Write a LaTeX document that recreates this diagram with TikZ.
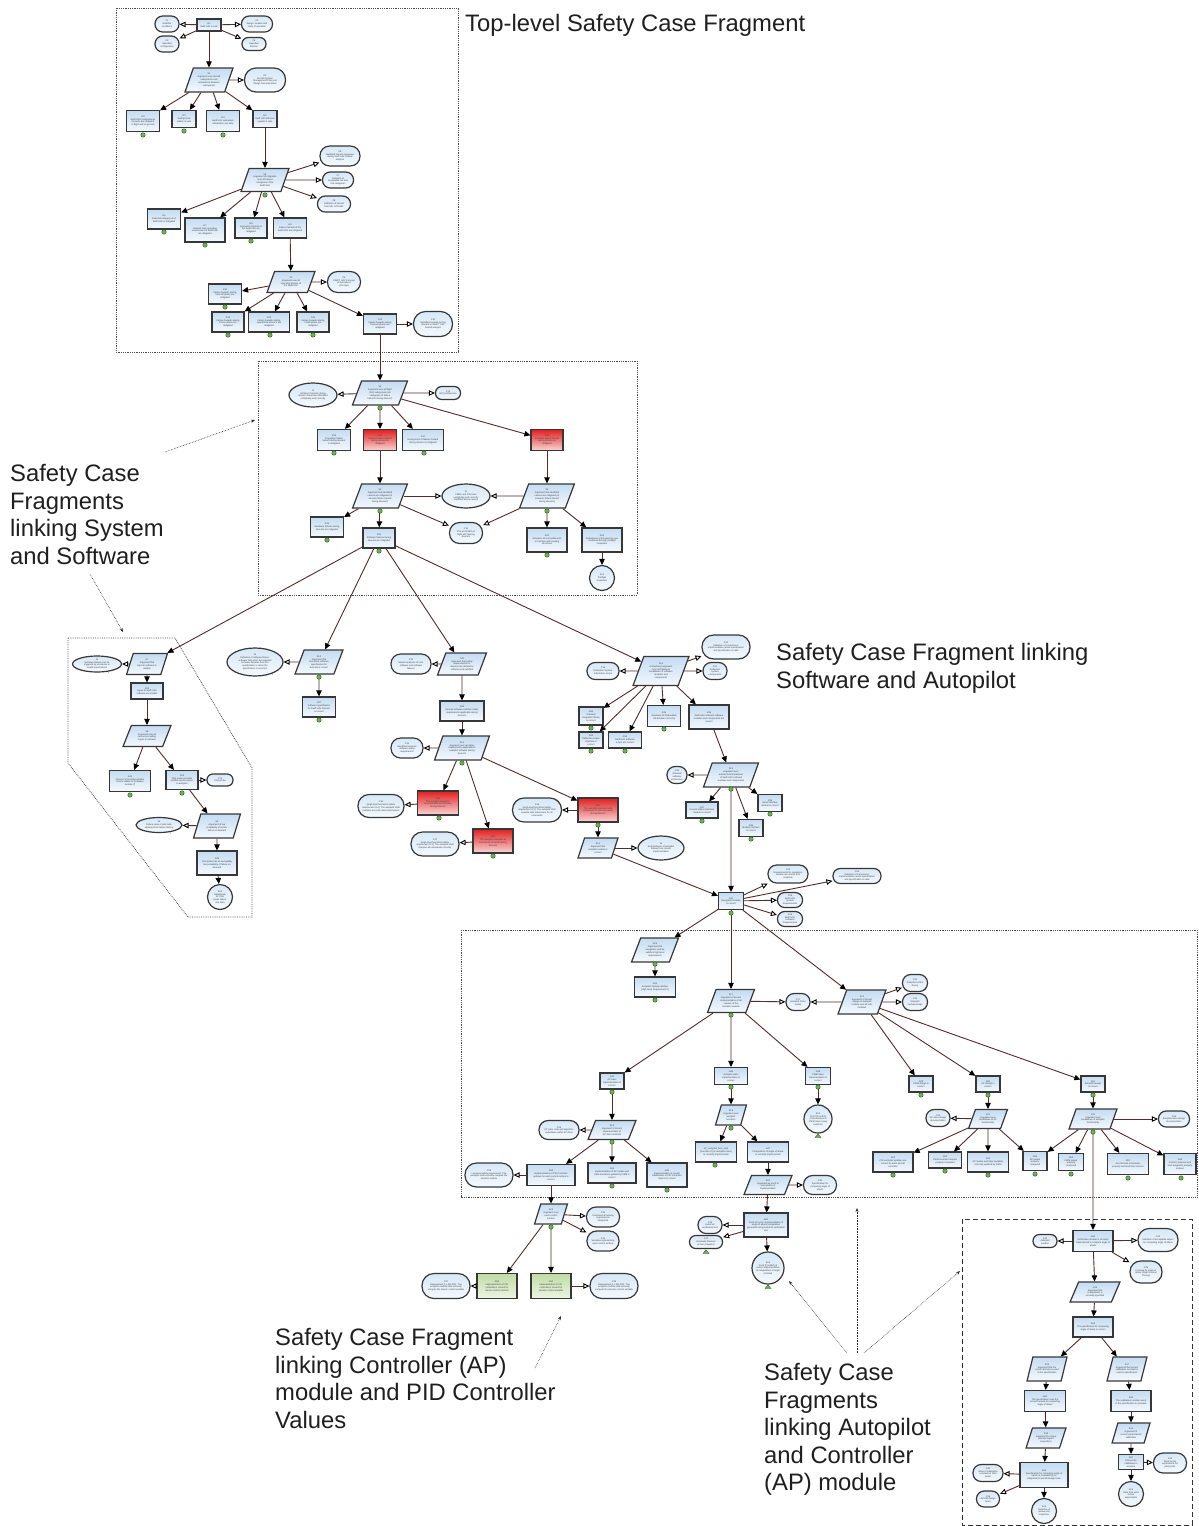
\documentclass[tikz,border=0pt]{standalone}
\usepackage{fontspec}
\setmainfont{Liberation Sans}
\usetikzlibrary{shapes.geometric,arrows.meta}

\definecolor{gtop}{RGB}{196,220,242}
\definecolor{gbot}{RGB}{244,249,253}
\definecolor{ctop}{RGB}{214,232,247}
\definecolor{rtop}{RGB}{226,30,30}
\definecolor{rbot}{RGB}{250,214,214}
\definecolor{vtop}{RGB}{192,220,165}
\definecolor{vbot}{RGB}{236,245,226}
\definecolor{edgec}{RGB}{88,42,42}
\definecolor{nborder}{RGB}{55,55,55}
\definecolor{mkfill}{RGB}{112,178,86}
\definecolor{mkdraw}{RGB}{48,105,40}

\newcommand{\tinyf}{\fontsize{2.3}{2.8}\selectfont}
\newcommand{\bigf}{\fontsize{23.8}{27.6}\selectfont}
% small green "undeveloped" marker below an element
\newcommand{\mk}[1]{\filldraw[fill=mkfill,draw=mkdraw,line width=0.5pt] (#1) circle (2.2pt);}
% small green triangle below an instantiated element
\newcommand{\tri}[1]{\filldraw[fill=mkfill,draw=mkdraw,line width=0.4pt] (#1) ++(-3,1.5) -- ++(6,0) -- ++(-3,-3.6) -- cycle;}

\tikzset{
  base/.style={draw=nborder, line width=1.2pt, align=center, font=\tinyf, text=black!75, inner sep=0.4pt},
  goal/.style 2 args={base, rectangle, top color=gtop, bottom color=gbot, minimum width=#1pt, minimum height=#2pt},
  hazard/.style 2 args={goal={#1}{#2}, top color=rtop, bottom color=rbot},
  verified/.style 2 args={goal={#1}{#2}, top color=vtop, bottom color=vbot},
  strat/.style 2 args={base, trapezium, trapezium left angle=66, trapezium right angle=114, trapezium stretches=true, top color=gtop, bottom color=gbot, minimum width=#1pt, minimum height=#2pt},
  ctx/.style 2 args={base, rectangle, rounded corners={0.48*#2pt}, top color=ctop, bottom color=gbot, minimum width=#1pt, minimum height=#2pt},
  just/.style 2 args={base, ellipse, top color=ctop, bottom color=gbot, minimum width=#1pt, minimum height=#2pt, label={[font=\tinyf,inner sep=0pt,text=black!70]-35:J}},
  sol/.style={base, circle, top color=ctop, bottom color=gbot, minimum size=#1pt},
  supby/.style={draw=edgec, line width=0.9pt, -{Triangle[length=6pt,width=5.5pt,color=black]}},
  ctxof/.style={draw=edgec, line width=0.9pt, -{Triangle[open,length=6pt,width=5.5pt,color=black,fill=white]}},
  frame/.style={densely dotted, line width=0.8pt, draw=black!70},
  annot/.style={densely dotted, line width=0.6pt, draw=black!85, -{Stealth[length=4pt,width=3pt]}},
  biglabel/.style={font=\bigf, align=left, anchor=north west, inner sep=0pt, text=black!88},
}

\begin{document}
\begin{tikzpicture}[x=1pt,y=-1pt]
\fill[white] (0,0) rectangle (1199,1526);
\useasboundingbox (0,0) rectangle (1199,1526);

% ---------- fragment frames ----------
\draw[frame] (116,8) rectangle (458,352);
\draw[frame] (258,361) rectangle (637,595);
\draw[frame] (68,638) -- (175,638) -- (252,768) -- (252,917) -- (188,917) -- (68,763) -- cycle;
\draw[frame] (461,930) rectangle (1197,1197);
\draw[dash pattern=on 5pt off 3pt, line width=0.9pt, draw=black!80] (962,1219) rectangle (1192,1525);

% ---------- titles ----------
\node[biglabel] (lab1) at (465,14) {Top-level Safety Case Fragment};
\node[biglabel] (lab2) at (10,464) {Safety Case\\Fragments\\linking System\\and Software};
\node[biglabel] (lab3) at (776,643) {Safety Case Fragment linking\\Software and Autopilot};
\node[biglabel] (lab4) at (275,1328) {Safety Case Fragment\\linking Controller (AP)\\module and PID Controller\\Values};
\node[biglabel] (lab5) at (764,1363) {Safety Case\\Fragments\\linking Autopilot\\and Controller\\(AP) module};

% ---------- top-level fragment ----------
\node[goal={24}{12}] (tg0) at (209,25) {G1\\Swift UAV is safe};
\node[ctx={24}{16}] (tc1) at (167,24) {C1\\Weather\\conditions};
\node[ctx={24}{16}] (tc2) at (167,44) {C2\\Specified\\configuration};
\node[ctx={31}{16}] (tc3) at (257,24) {C3\\Range, location and\\limits of operation};
\node[ctx={24}{13}] (tc4) at (254,44) {C4\\Specified\\Mission};
\node[strat={48}{24}] (ts1) at (209,80) {S1\\Argument over aircraft\\subsystems and\\interactions between\\subsystems};
\node[ctx={41}{24}] (tc5) at (265,80) {C5\\Aircraft System\\Management Plan and\\Design Documentation};
\node[goal={33}{21}] (tg1) at (143,121) {G2\\Swift UAS (sub)systems\\hazards are mitigated\\in flight and on ground};
\node[goal={24}{17}] (tg2) at (184,119) {G3\\Swift ground\\station is safe};
\node[goal={33}{21}] (tg3) at (223,121) {G4\\Swift UAV subsystem\\interactions are safe};
\node[goal={24}{17}] (tg4) at (265,119) {G5\\Swift UAV airborne\\system is safe};
\node[strat={48}{23}] (ts2) at (265,180) {S2\\Argument of mitigation\\over all hazard\\categories of the\\Swift UAV};
\node[ctx={40}{20}] (tc6) at (340,156) {C6\\Identified hazard categories\\during Swift UAV hazard\\analysis};
\node[ctx={31}{16}] (tc7) at (338,180) {C7\\Definition of\\acceptable risk and\\risk categories};
\node[ctx={33}{16}] (tc8) at (334,204) {C8\\Definition of hazard\\from MIL-STD-882};
\node[goal={33}{20}] (tg5) at (164,219) {G6\\Detected category III of\\Swift UAV is mitigated};
\node[goal={40}{24}] (tg6) at (205,230) {G7\\Hazards from operating\\environment of Swift UAV\\are mitigated};
\node[goal={32}{20}] (tg7) at (251,228) {G8\\Interaction hazards of\\the Swift UAV are\\mitigated};
\node[goal={33}{20}] (tg8) at (290,228) {G9\\Failure hazards of the\\Swift UAV are mitigated};
\node[strat={48}{21}] (ts3) at (291,282) {S3\\Argument over all\\operating phases of\\the Swift UAV};
\node[ctx={33}{21}] (tc9) at (344,282) {C9\\SWIFT UAV Concept\\of Operations\\(ConOps)};
\node[goal={33}{20}] (tg9) at (225,294) {G10\\Failure hazards during\\Take-off phase are\\mitigated};
\node[goal={32}{20}] (tg10) at (228,322) {G11\\Failure hazards during\\Cruise phase are\\mitigated};
\node[goal={41}{20}] (tg11) at (269,322) {G12\\Failure hazards during\\operational phase X are\\mitigated};
\node[goal={32}{20}] (tg12) at (313,322) {G13\\Failure hazards during\\Climb phase are\\mitigated};
\node[goal={33}{20}] (tg13) at (380,324) {G14\\Failure hazards during\\Descent phase are\\mitigated};
\node[ctx={39}{25}] (tc10) at (433,324) {C10\\Identified hazards during\\descent in SWIFT UAV\\hazard analysis};

% ---------- system / software fragment ----------
\node[strat={55}{24}] (s1) at (380,393) {S4\\Argument over all flight\\(AP) subsystems (all\\categories of failure\\hazards during descent)};
\node[just={48}{24}] (sj1) at (313,395) {J1\\All failure hazards during\\descent have been identified\\completely and correctly};
\node[ctx={25}{13}] (sc1) at (448,393) {C11\\(AP) Architecture};
\node[goal={33}{21}] (sg1) at (334,440) {G15\\Propulsion failure\\hazard during descent\\is mitigated};
\node[hazard={33}{21}] (sr1) at (380,440) {G16\\Avionics failure hazard\\during descent is\\mitigated};
\node[goal={41}{21}] (sg2) at (423,440) {G17\\Deployment of failures hazard\\during descent is mitigated};
\node[hazard={32}{21}] (sr2) at (547,440) {G18\\Actuation failure hazard\\during descent is\\mitigated};
\node[strat={55}{24}] (s2) at (380,496) {S5\\Argument that identified\\causes are mitigated (of\\avionics failure hazard\\during descent)};
\node[just={48}{24}] (sj2) at (466,496) {J2\\FMEA and FTA have\\completely and correctly\\identified failure causes};
\node[strat={55}{24}] (s3) at (547,496) {S6\\Argument that identified\\causes are mitigated (of\\actuation failure hazard\\during descent)};
\node[goal={33}{20}] (sg3) at (327,527) {G19\\Hardware failures during\\descent are mitigated};
\node[goal={32}{20}] (sg4) at (379,538) {G20\\Software failures during\\descent are mitigated};
\node[ctx={33}{21}] (sc2) at (466,533) {C12\\FTA and FMEA of\\flight (AP) during\\descent};
\node[goal={40}{24}] (sg5) at (547,540) {G21\\Actuators do not collide with\\or interfere with existing\\structures};
\node[goal={40}{24}] (sg6) at (602,540) {G22\\Robustness of actuators by use\\confirmed through preflight\\inspection};
\node[sol={25}] (ssn) at (602,578) {Sn1\\Preflight\\inspection};

% ---------- input / sensor fragment ----------
\node[just={49}{16}] (lj1) at (97,664) {J3\\Software failures can be\\triggered by erroneous or\\invalid input failures};
\node[strat={41}{21}] (l1) at (147,664) {S7\\Argument that\\input to software is\\reliable};
\node[goal={32}{16}] (lg1) at (147,691) {G23\\Inputs to Swift UAV\\software are reliable};
\node[strat={48}{21}] (l2) at (147,736) {S8\\Argument over all\\sensors providing\\inputs to software};
\node[goal={41}{21}] (lg2) at (130,781) {G24\\{}[Sensor X] provides reliable\\sensor values to [Software\\module Y]};
\node[goal={32}{19}] (lg3) at (182,780) {G25\\Pitot probe provides\\reliable sensor values\\to autopilot};
\node[ctx={26}{12}] (lc1) at (220,780) {C13\\Pitot probe};
\node[strat={47}{24}] (l3) at (217,826) {S9\\Argument of low\\probability of sensor\\failure on demand};
\node[just={46}{15}] (lj2) at (159,825) {J4\\Failure rates of pitot tube\\obtained from failure history};
\node[goal={40}{24}] (lg4) at (217,863) {G26\\Pitot probe has an acceptably\\low probability of failure on\\demand};
\node[sol={25}] (lsn) at (220,897) {Sn2\\Datasheets\\for Pitot\\probe failure\\rate data};

% ---------- software specification / requirements ----------
\node[just={56}{28}] (mj1) at (255,662) {J5\\Definition of software failure:\\software fails when the intended\\behavior deviates from the\\specification or when the\\specification is incorrect};
\node[strat={48}{24}] (m1) at (319,662) {S10\\Argument that\\functional software\\specification for\\descent is correct};
\node[goal={33}{20}] (mg1) at (319,707) {G27\\Software specification\\for Swift UAV descent\\is correct};
\node[ctx={40}{20}] (mc1) at (411,664) {C14\\Hazard analyses of cont.\\software and software\\failures};
\node[strat={49}{22}] (m2) at (462,664) {S11\\Argument that safety\\requirements for\\descent are derived to\\software and satisfied};
\node[goal={44}{20}] (mg2) at (462,711) {G28\\Derived software satisfies safety\\requirements applicable during\\descent};
\node[strat={55}{24}] (m3) at (462,748) {S12\\Argument over all safety\\requirements applicable to\\autopilot software during\\descent};
\node[ctx={32}{20}] (mc2) at (407,748) {C15\\Identified low-level\\software safety\\requirements};
\node[hazard={41}{24}] (mr1) at (438,803) {G29\\The autopilot maintains\\accurate data transmission\\during descent};
\node[ctx={46}{23}] (mc3) at (381,806) {C16\\{}[High-level functional safety\\requirement R.4]: The autopilot shall\\maintain accurate data transmission};
\node[hazard={40}{24}] (mr2) at (493,841) {G30\\The autopilot interprets all\\commands correctly during\\descent};
\node[ctx={48}{24}] (mc4) at (435,844) {C17\\{}[High-level functional safety\\requirement R.1]: The autopilot shall\\interpret all commands correctly};
\node[hazard={40}{24}] (mr3) at (598,810) {G31\\The autopilot executes safe\\maneuvers for all commands\\during descent};
\node[ctx={49}{24}] (mc5) at (537,810) {C18\\{}[High-level functional safety\\requirement R.2]: The autopilot shall\\execute safe maneuvers for all\\commands};
\node[strat={40}{20}] (m4) at (598,848) {S13\\Argument that\\autopilot module is\\correct};
\node[just={46}{24}] (mj2) at (661,848) {J6\\Safe behavior of autopilot\\follows from correct\\implementation};

% ---------- software / autopilot fragment ----------
\node[strat={56}{29}] (r1) at (661,671) {S14\\Correctness argument\\over architectural\\breakdown of software\\modules and\\components};
\node[ctx={32}{17}] (rc1) at (603,671) {C19\\Reflection System\\Information scope};
\node[ctx={48}{24}] (rc2) at (726,647) {C20\\Definition of correctness:\\implementation meets specification\\and specification is valid};
\node[ctx={24}{17}] (rc3) at (715,671) {C21\\Reflection\\system\\components};
\node[goal={24}{18}] (rg1) at (591,716) {G32\\Onboard\\integration library\\is correct};
\node[goal={24}{16}] (rg2) at (591,740) {G33\\Reflection output\\interface is\\correct};
\node[goal={33}{16}] (rg3) at (625,740) {G34\\Swift UAV Software\\scope are correct};
\node[goal={33}{21}] (rg4) at (664,716) {G35\\Windows XP Embedded\\OS behaves correctly};
\node[goal={40}{24}] (rg5) at (709,717) {G36\\Swift UAV onboard software\\modules and components are\\correct};
\node[strat={55}{24}] (r2) at (731,775) {S15\\Argument over\\architectural breakdown\\of Swift UAV onboard\\modules and components};
\node[ctx={20}{17}] (rc4) at (677,775) {C22\\Onboard\\software\\architecture};
\node[goal={32}{16}] (rg6) at (702,810) {G37\\Ground station interface\\module is correct};
\node[goal={24}{17}] (rg7) at (751,828) {G38\\Modem interface\\is correct};
\node[goal={24}{17}] (rg8) at (770,803) {G39\\Servo interface\\module is correct};
\node[goal={25}{17}] (rg9) at (731,901) {G40\\Navigation module\\is correct};
\node[ctx={40}{18}] (rc5) at (788,874) {C23\\Requirements for navigation\\module are correct and\\complete};
\node[ctx={48}{15}] (rc6) at (857,876) {C24\\Definition of correctness:\\implementation meets specification\\and specification is valid};
\node[ctx={25}{15}] (rc7) at (790,900) {C25\\Swift UAV\\System\\Requirements};
\node[ctx={25}{15}] (rc8) at (790,919) {C26\\Swift UAV\\Software\\Requirements};

% ---------- autopilot / controller fragment ----------
\node[strat={47}{24}] (b1) at (655,950) {S16\\Argument that\\navigation module\\satisfies high-level\\requirements};
\node[goal={41}{20}] (bg1) at (655,987) {G41\\Autopilot module satisfies\\{}[High-level Requirement 5]};
\node[strat={47}{23}] (b2) at (731,1001) {S17\\Argument of correct\\implementation of all\\classes of the\\Autopilot module};
\node[ctx={24}{17}] (bc1) at (798,1002) {C27\\Autopilot Class\\model};
\node[goal={24}{16}] (bg2) at (612,1081) {G42\\AP class\\implementation is\\correct};
\node[strat={48}{19}] (b3) at (612,1130) {S18\\Argument of correct\\implementation of\\AP class methods};
\node[ctx={40}{19}] (bc2) at (559,1130) {C28\\AP class code and algorithm\\undertaken within AP class};
\node[goal={48}{21}] (bg3) at (551,1175) {G43\\Implementation of PID Controller\\updates for each control surface is\\correct};
\node[ctx={48}{24}] (bc3) at (489,1175) {C29\\Low-level safety requirement: The\\autopilot shall correctly compute the\\actuator outputs};
\node[goal={48}{20}] (bg4) at (612,1173) {G44\\Implementation of AP modes and\\state transitions guided by PWM is\\correct};
\node[goal={40}{24}] (bg5) at (667,1175) {G45\\Implementation of correct\\initialization of PID Controller\\objects is correct};
\node[goal={33}{17}] (bg6) at (731,1076) {G46\\Autopilot class\\implementation is\\correct};
\node[strat={31}{20}] (b4) at (731,1115) {S19\\Argument over\\autopilot\\functions};
\node[goal={41}{20}] (bg7) at (716,1152) {AP\_autopilot\_func\_impl\\{}[Function X] (in autopilot class)\\is correctly implemented};
\node[goal={41}{20}] (bg8) at (768,1152) {G47\\Computation of angle of attack\\is correctly implemented};
\node[strat={48}{19}] (b5) at (768,1185) {S20\\Argument by proof of\\correctness of\\implementation};
\node[ctx={33}{19}] (bc4) at (820,1185) {C30\\Specification for\\computing angle of\\attack};
\node[goal={25}{17}] (bg9) at (818,1076) {G48\\PWM class\\implementation is\\correct};
\node[sol={28}] (bsn1) at (818,1119) {Sn3\\Proof (ProofKit)\\of correctness of\\PWM class using\\AutoCert};
\node[strat={48}{24}] (b6) at (862,1002) {S21\\Argument of correct\\design of Autopilot\\module over all sub-\\modules};
\node[ctx={25}{17}] (bc5) at (915,983) {C31\\Autopilot control\\theory};
\node[ctx={25}{17}] (bc6) at (915,1002) {C32\\Autopilot\\module design};
\node[goal={24}{16}] (bg10) at (921,1084) {G49\\PWM design is\\correct};
\node[goal={24}{16}] (bg11) at (988,1084) {G50\\AP design is\\correct};
\node[goal={24}{16}] (bg12) at (1093,1084) {G51\\Autopilot design\\is correct};
\node[strat={39}{19}] (b7) at (988,1119) {S22\\Argument over\\breakdown of AP\\functionality};
\node[ctx={24}{17}] (bc7) at (938,1118) {C33\\AP class design\\documentation};
\node[strat={48}{20}] (b8) at (1093,1119) {S23\\Argument over\\breakdown of autopilot\\functionality};
\node[ctx={31}{16}] (bc8) at (1174,1119) {C34\\Autopilot class design\\documentation};
\node[goal={40}{20}] (bg13) at (893,1162) {G52\\PID controller updates are\\correct for each aircraft\\controller};
\node[goal={33}{16}] (bg14) at (945,1160) {G53\\PWM controller outputs\\properly computed};
\node[goal={41}{20}] (bg15) at (988,1162) {G54\\AP modes and state variables\\correctly updated by PWM};
\node[goal={24}{19}] (bg16) at (1035,1161) {G55\\AP output\\properly\\computed};
\node[goal={25}{17}] (bg17) at (1071,1162) {G56\\PWM output\\properly\\computed};
\node[goal={41}{21}] (bg18) at (1128,1164) {G57\\Aircraft state information\\properly received from sensors};
\node[goal={32}{21}] (bg19) at (1180,1164) {G58\\Current, previous and\\next waypoints properly\\defined};

% ---------- controller / PID values fragment ----------
\node[strat={33}{20}] (p1) at (551,1214) {S24\\Argument over\\each control\\surface};
\node[ctx={33}{20}] (pc1) at (603,1217) {C35\\Command \& tracking\\requirements\\integrated};
\node[ctx={32}{20}] (pc2) at (603,1241) {C36\\Variables representing\\each control surface};
\node[verified={40}{25}] (pv1) at (497,1286) {G59\\Implementation of PID\\controller is correct for\\aileron control variable};
\node[verified={40}{25}] (pv2) at (551,1286) {G60\\Implementation of PID\\controller is correct for\\elevator control variable};
\node[ctx={48}{25}] (pc3) at (446,1286) {C37\\Requirement [LL-SR-001]: The\\autopilot module shall correctly\\compute the aileron control variable};
\node[ctx={48}{25}] (pc4) at (614,1286) {C38\\Requirement [LL-SR-002]: The\\autopilot module shall correctly\\compute the elevator control variable};

% ---------- proof of angle of attack computation ----------
\node[goal={44}{24}] (qg1) at (766,1225) {G61\\Proof of correct implementation of\\angle of attack computation\\generated using AutoCert verification\\tool};
\node[ctx={24}{17}] (qc1) at (710,1225) {C39\\AutoCert\\verification tool};
\node[ctx={33}{13}] (qc2) at (706,1242) {C40\\Automatic theorem\\prover (Vampire)};
\node[sol={32}] (qsn) at (768,1268) {Sn4\\Proof (ProofKit) of\\correct implementation\\of computation of angle\\of attack};

% ---------- angle of attack specification fragment ----------
\node[goal={40}{21}] (d0) at (1093,1241) {G62\\Verification module is correctly\\implemented to compute angle of\\attack};
\node[ctx={24}{13}] (dc1) at (1045,1241) {C41\\Autopilot\\module};
\node[ctx={40}{23}] (dc2) at (1158,1240) {C42\\Definition of acceptable values\\for computing angle of attack};
\node[ctx={32}{22}] (dc3) at (1146,1272) {C43\\Formula for angle of\\attack (Flight Control\\Theory)};
\node[strat={50}{20}] (d1) at (1095,1292) {S25\\Argument that\\computation is\\correctly specified};
\node[goal={40}{20}] (dg1) at (1093,1327) {G63\\The specification for computing\\angle of attack is correct};
\node[strat={40}{24}] (d2) at (1047,1369) {S26\\Argument that the\\correct formula is used\\in the specification};
\node[strat={40}{24}] (d3) at (1127,1369) {S27\\Argument that correct\\calibration constant is\\used in specification};
\node[goal={41}{21}] (dg2) at (1045,1401) {G64\\The specification uses the\\correct formula for computing\\angle of attack};
\node[goal={40}{21}] (dg3) at (1131,1401) {G65\\The calibration constant used\\in the specification is accurate};
\node[strat={40}{20}] (d4) at (1046,1438) {S28\\Argument by review\\(domain expert\\inspection)};
\node[strat={38}{20}] (d5) at (1131,1433) {S29\\Argument of\\correct experimental\\calibration};
\node[goal={48}{25}] (dg4) at (1044,1475) {G66\\Specification for computing angle of\\attack is reviewed by an\\independent aircraft design team};
\node[goal={25}{15}] (dg5) at (1131,1462) {G67\\Pitot probe\\calibration is\\accurate};
\node[ctx={33}{20}] (dc4) at (1170,1463) {C44\\Wind tunnel\\experiments for\\pitot probe};
\node[ctx={30}{17}] (dc5) at (988,1473) {C45\\Value of calibration\\constant for Pitot\\probe};
\node[ctx={23}{16}] (dc6) at (988,1499) {C46\\Aircraft design\\team};
\node[sol={25}] (dsn1) at (1044,1511) {Sn5\\Outcome of\\review and\\inspection};
\node[sol={25}] (dsn2) at (1131,1494) {Sn6\\Data from wind\\tunnel\\experiments};

% ---------- connectors: top-level ----------
\draw[supby] (tg0) -- (ts1);
\foreach \c in {tc1,tc2,tc3,tc4} \draw[ctxof] (tg0) -- (\c);
\draw[ctxof] (ts1) -- (tc5);
\foreach \g in {tg1,tg2,tg3,tg4} \draw[supby] (ts1) -- (\g);
\draw[supby] (tg4) -- (ts2);
\foreach \c in {tc6,tc7,tc8} \draw[ctxof] (ts2) -- (\c);
\foreach \g in {tg5,tg6,tg7,tg8} \draw[supby] (ts2) -- (\g);
\draw[supby] (tg8) -- (ts3);
\draw[ctxof] (ts3) -- (tc9);
\foreach \g in {tg9,tg10,tg11,tg12,tg13} \draw[supby] (ts3) -- (\g);
\draw[ctxof] (tg13) -- (tc10);
\draw[supby] (tg13) -- (s1);

% ---------- connectors: system / software ----------
\draw[ctxof] (s1) -- (sj1);
\draw[ctxof] (s1) -- (sc1);
\foreach \g in {sg1,sr1,sg2,sr2} \draw[supby] (s1) -- (\g);
\draw[supby] (sr1) -- (s2);
\draw[supby] (sr2) -- (s3);
\draw[ctxof] (s2) -- (sj2);
\draw[ctxof] (s2) -- (sc2);
\draw[ctxof] (s3) -- (sj2);
\draw[ctxof] (s3) -- (sc2);
\draw[supby] (s2) -- (sg3);
\draw[supby] (s2) -- (sg4);
\draw[supby] (s3) -- (sg5);
\draw[supby] (s3) -- (sg6);
\draw[supby] (sg6) -- (ssn);
\foreach \g in {l1,m1,m2,r1} \draw[supby] (sg4) -- (\g);

% ---------- connectors: inputs / sensors ----------
\draw[ctxof] (l1) -- (lj1);
\draw[supby] (l1) -- (lg1);
\draw[supby] (lg1) -- (l2);
\draw[supby] (l2) -- (lg2);
\draw[supby] (l2) -- (lg3);
\draw[ctxof] (lg3) -- (lc1);
\draw[supby] (lg3) -- (l3);
\draw[ctxof] (l3) -- (lj2);
\draw[supby] (l3) -- (lg4);
\draw[supby] (lg4) -- (lsn);

% ---------- connectors: specification / requirements ----------
\draw[ctxof] (m1) -- (mj1);
\draw[supby] (m1) -- (mg1);
\draw[ctxof] (m2) -- (mc1);
\draw[supby] (m2) -- (mg2);
\draw[supby] (mg2) -- (m3);
\draw[ctxof] (m3) -- (mc2);
\foreach \g in {mr1,mr2,mr3} \draw[supby] (m3) -- (\g);
\draw[ctxof] (mr1) -- (mc3);
\draw[ctxof] (mr2) -- (mc4);
\draw[ctxof] (mr3) -- (mc5);
\draw[supby] (mr3) -- (m4);
\draw[ctxof] (m4) -- (mj2);
\draw[supby] (m4) -- (rg9);

% ---------- connectors: software / autopilot ----------
\foreach \c in {rc1,rc2,rc3} \draw[ctxof] (r1) -- (\c);
\foreach \g in {rg1,rg2,rg3,rg4,rg5} \draw[supby] (r1) -- (\g);
\draw[supby] (rg5) -- (r2);
\draw[ctxof] (r2) -- (rc4);
\foreach \g in {rg6,rg7,rg8,rg9} \draw[supby] (r2) -- (\g);
\foreach \c in {rc5,rc6,rc7,rc8} \draw[ctxof] (rg9) -- (\c);
\foreach \s in {b1,b2,b6} \draw[supby] (rg9) -- (\s);

% ---------- connectors: autopilot module ----------
\draw[supby] (b1) -- (bg1);
\draw[ctxof] (b2) -- (bc1);
\foreach \g in {bg2,bg6,bg9} \draw[supby] (b2) -- (\g);
\draw[ctxof] (b6) -- (bc1);
\draw[ctxof] (b6) -- (bc5);
\draw[ctxof] (b6) -- (bc6);
\foreach \g in {bg10,bg11,bg12} \draw[supby] (b6) -- (\g);
\draw[supby] (bg2) -- (b3);
\draw[ctxof] (b3) -- (bc2);
\foreach \g in {bg3,bg4,bg5} \draw[supby] (b3) -- (\g);
\draw[ctxof] (bg3) -- (bc3);
\draw[supby] (bg3) -- (p1);
\draw[ctxof] (p1) -- (pc1);
\draw[ctxof] (p1) -- (pc2);
\draw[supby] (p1) -- (pv1);
\draw[supby] (p1) -- (pv2);
\draw[ctxof] (pv1) -- (pc3);
\draw[ctxof] (pv2) -- (pc4);
\draw[supby] (bg6) -- (b4);
\draw[supby] (b4) -- (bg7);
\draw[supby] (b4) -- (bg8);
\draw[supby] (bg8) -- (b5);
\draw[ctxof] (b5) -- (bc4);
\draw[supby] (b5) -- (qg1);
\draw[ctxof] (qg1) -- (qc1);
\draw[ctxof] (qg1) -- (qc2);
\draw[supby] (qg1) -- (qsn);
\draw[supby] (bg9) -- (bsn1);
\draw[supby] (bg11) -- (b7);
\draw[ctxof] (b7) -- (bc7);
\foreach \g in {bg13,bg14,bg15,bg16} \draw[supby] (b7) -- (\g);
\draw[supby] (bg12) -- (b8);
\draw[ctxof] (b8) -- (bc8);
\foreach \g in {bg16,bg17,bg18,bg19} \draw[supby] (b8) -- (\g);
\draw[supby] (b8) -- (d0);

% ---------- connectors: angle of attack specification ----------
\foreach \c in {dc1,dc2,dc3} \draw[ctxof] (d0) -- (\c);
\draw[supby] (d0) -- (d1);
\draw[supby] (d1) -- (dg1);
\draw[supby] (dg1) -- (d2);
\draw[supby] (dg1) -- (d3);
\draw[supby] (d2) -- (dg2);
\draw[supby] (dg2) -- (d4);
\draw[supby] (d4) -- (dg4);
\draw[ctxof] (dg4) -- (dc5);
\draw[ctxof] (dg4) -- (dc6);
\draw[supby] (dg4) -- (dsn1);
\draw[supby] (d3) -- (dg3);
\draw[supby] (dg3) -- (d5);
\draw[supby] (d5) -- (dg5);
\draw[ctxof] (dg5) -- (dc4);
\draw[supby] (dg5) -- (dsn2);

% ---------- undeveloped / instantiated markers ----------
\foreach \p in {{143,135},{184,131},{223,135},{265,195},{164,232},{205,245},{251,241},
  {225,307},{228,335},{270,335},{313,335},
  {380,408},{334,453},{424,453},{380,511},{547,511},{327,540},{379,551},{547,555},
  {130,795},{182,793},
  {319,677},{319,720},{462,763},{439,818},{493,856},{598,825},
  {591,728},{591,751},{625,751},{664,729},{731,789},{702,821},{751,839},{770,814},{731,913},
  {655,964},{655,1000},{731,1015},{612,1092},{612,1142},{612,1186},{667,1190},
  {731,1087},{731,1128},{715,1165},{818,1087},{921,1095},{988,1095},{1093,1095},
  {1093,1132},{893,1175},{945,1171},{988,1175},{1035,1174},{1071,1174},{1128,1178},
  {1181,1178},{551,1227}}
  \mk{\p};
\tri{818,1136}
\tri{706,1252}
\tri{768,1287}

% ---------- annotation pointers ----------
\coordinate (an1a) at (165,452);  \coordinate (an1b) at (255,420);
\coordinate (an2a) at (90,574);   \coordinate (an2b) at (123,632);
\coordinate (an3a) at (535,1368); \coordinate (an3b) at (561,1316);
\coordinate (an4a) at (847,1353); \coordinate (an4b) at (789,1281);
\coordinate (an5a) at (857,1353); \coordinate (an5b) at (857,1208);
\coordinate (an6a) at (864,1353); \coordinate (an6b) at (960,1271);
\draw[annot] (an1a) -- (an1b);
\draw[annot] (an2a) -- (an2b);
\draw[annot] (an3a) -- (an3b);
\draw[annot] (an4a) -- (an4b);
\draw[annot] (an5a) -- (an5b);
\draw[annot] (an6a) -- (an6b);
\end{tikzpicture}
\end{document}
